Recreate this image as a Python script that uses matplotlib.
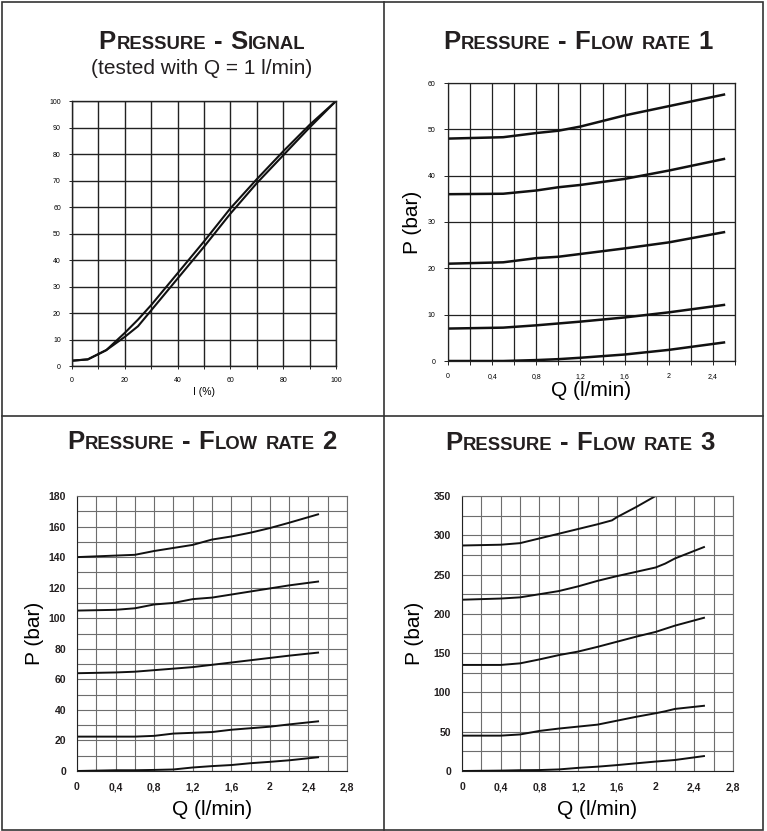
import matplotlib
matplotlib.use("Agg")
import matplotlib.pyplot as plt
from matplotlib.offsetbox import TextArea, HPacker, AnnotationBbox
from matplotlib.patches import Rectangle
from matplotlib.lines import Line2D

plt.rcParams['font.family'] = ['Liberation Sans', 'DejaVu Sans']

# ---- data ----
# pressure - signal (two branches of the hysteresis loop)
sig_x = [0, 6, 10, 13, 20, 25, 30, 40, 50, 60, 70, 80, 90, 100]
sig_up = [2, 2.5, 4.5, 6, 12.5, 17.5, 23, 35, 47, 59.5, 70.5, 81, 91, 100]
sig_down = [2, 2.5, 4.5, 6, 11, 15, 21, 33, 45, 57.5, 69, 79.5, 90, 100]

# pressure - flow rate 1
q1 = [0, 0.5, 0.8, 1.0, 1.2, 1.6, 2.0, 2.5]
f1_a = [48, 48.3, 49.2, 49.7, 50.6, 53, 55, 57.5]
f1_b = [36, 36.1, 36.8, 37.5, 38, 39.3, 41.1, 43.6]
f1_c = [21, 21.3, 22.2, 22.5, 23.1, 24.3, 25.6, 27.8]
f1_d = [7, 7.2, 7.7, 8.1, 8.5, 9.4, 10.5, 12.1]
f1_e = [0, 0, 0.2, 0.4, 0.7, 1.4, 2.4, 4.0]

# pressure - flow rate 2
q2 = [0, 0.4, 0.6, 0.8, 1.0, 1.2, 1.4, 1.6, 1.8, 2.0, 2.2, 2.5]
f2_a = [140, 141, 141.5, 144, 146, 148, 151.5, 153.5, 156, 159, 162.5, 168]
f2_b = [105, 105.5, 106.5, 109, 110, 112.5, 113.5, 115.5, 117.5, 119.5, 121.5, 124]
f2_c = [64, 64.5, 65, 66, 67, 68, 69.5, 71, 72.5, 74, 75.5, 77.5]
f2_d = [22.5, 22.5, 22.5, 23, 24.5, 25, 25.5, 27, 28, 29, 30.5, 32.5]
f2_e = [0, 0.5, 0.5, 0.7, 1, 2.3, 3.2, 3.9, 5.1, 6, 7, 9]

# pressure - flow rate 3
q3_top = [0, 0.4, 0.6, 0.8, 1.0, 1.2, 1.4, 1.55, 1.6, 1.8, 2.0]
f3_a = [287, 288, 290, 296, 302, 308, 314, 319, 323, 336, 350]
q3 = [0, 0.4, 0.6, 0.8, 1.0, 1.2, 1.4, 1.6, 1.8, 2.0, 2.1, 2.2, 2.5]
f3_b = [218, 219.5, 221, 225, 229, 235, 242, 248, 253.5, 259, 264, 270.5, 285]
f3_c = [135, 135, 137, 142, 147.5, 152, 158, 164.5, 171, 177, 181, 185, 195]
f3_d = [45, 45, 46.5, 51, 54, 56.5, 59, 64, 69, 73.5, 76, 79, 83]
f3_e = [0, 0.5, 1, 1.2, 2, 4, 5.5, 7.5, 9.8, 12, 13, 14, 19]

q_labels_short = ['0', '0,4', '0,8', '1,2', '1,6', '2', '2,4']
q_labels_long = q_labels_short + ['2,8']

W, H = 767, 831
fig = plt.figure(figsize=(W / 100, H / 100), dpi=100)


def add_ax(x0, y0, x1, y1):
    # pixel box (top-left origin) -> figure axes
    return fig.add_axes([x0 / W, 1 - y1 / H, (x1 - x0) / W, (y1 - y0) / H])


def fig_text(x, y, s, **kw):
    fig.text(x / W, 1 - y / H, s, ha='center', va='center', **kw)


def smallcaps_title(x, y, words, big=18.5, small=13.3):
    # words: list of lists of (text, is_big)
    boxes = []
    for word in words:
        parts = [TextArea(t, textprops=dict(size=big if b else small, weight='bold', color='#231f20'))
                 for t, b in word]
        boxes.append(HPacker(children=parts, align='baseline', pad=0, sep=0.5))
    pack = HPacker(children=boxes, align='baseline', pad=0, sep=5.5)
    ab = AnnotationBbox(pack, (x / W, 1 - y / H), xycoords='figure fraction',
                        frameon=False, box_alignment=(0.5, 0.5))
    fig.add_artist(ab)


def style_grid(ax, color, lw):
    ax.grid(True, which='both', color=color, lw=lw)
    ax.set_axisbelow(True)
    for s in ax.spines.values():
        s.set_color(color)
        s.set_linewidth(lw)


# ---- panel 1: pressure - signal ----
ax1 = add_ax(72, 101, 336, 366)
ax1.plot(sig_x, sig_up, color='#111', lw=1.5)
ax1.plot(sig_x, sig_down, color='#111', lw=1.5)
ax1.set_xlim(0, 100)
ax1.set_ylim(0, 100)
ax1.set_xticks(range(0, 101, 20))
ax1.set_xticks(range(0, 101, 10), minor=True)
ax1.set_yticks(range(0, 101, 10))
style_grid(ax1, '#222', 1.0)
ax1.tick_params(which='both', labelsize=5, length=2, width=0.6, pad=6)
ax1.set_xlabel('I (%)', fontsize=7.5, labelpad=2)

smallcaps_title(202, 42, [[('P', 1), ('RESSURE', 0)], [('-', 1)], [('S', 1), ('IGNAL', 0)]])
fig_text(202, 69, '(tested with Q = 1 l/min)', fontsize=15, color='#231f20')

# ---- panel 2: pressure - flow rate 1 ----
ax2 = add_ax(448, 83, 735, 361)
for ys in (f1_a, f1_b, f1_c, f1_d, f1_e):
    ax2.plot(q1, ys, color='#111', lw=1.8)
ax2.set_xlim(0, 2.6)
ax2.set_ylim(0, 60)
ax2.set_xticks([0, 0.4, 0.8, 1.2, 1.6, 2.0, 2.4])
ax2.set_xticklabels(q_labels_short)
ax2.set_xticks([i * 0.2 for i in range(14)], minor=True)
ax2.set_yticks(range(0, 61, 10))
style_grid(ax2, '#222', 0.9)
ax2.tick_params(which='both', labelsize=5, length=3, width=0.6, pad=6)
ax2.set_xlabel('Q (l/min)', fontsize=15, labelpad=0)
ax2.set_ylabel('P (bar)', fontsize=15, labelpad=4)

smallcaps_title(578, 42, [[('P', 1), ('RESSURE', 0)], [('-', 1)], [('F', 1), ('LOW', 0)],
                          [('RATE', 0)], [('1', 1)]])


# ---- panels 3 and 4 ----
def flow_panel(box, qs_list, ys_list, ymax, ystep, ygrid, title_x, title_y, num, ypad):
    ax = add_ax(*box)
    for qs, ys in zip(qs_list, ys_list):
        ax.plot(qs, ys, color='#111', lw=1.4)
    ax.set_xlim(0, 2.8)
    ax.set_ylim(0, ymax)
    ax.set_xticks([0, 0.4, 0.8, 1.2, 1.6, 2.0, 2.4, 2.8])
    ax.set_xticklabels(q_labels_long)
    ax.set_xticks([i * 0.2 for i in range(15)], minor=True)
    ax.set_yticks(range(0, ymax + 1, ystep))
    ax.set_yticks(range(0, ymax + 1, ygrid), minor=True)
    style_grid(ax, '#6d6d6d', 0.8)
    ax.spines['left'].set_color('#222')
    ax.spines['bottom'].set_color('#222')
    ax.tick_params(which='both', length=0, pad=8)
    ax.tick_params(labelsize=7.5)
    for lab in ax.get_xticklabels() + ax.get_yticklabels():
        lab.set_fontweight('bold')
        lab.set_color('#231f20')
    ax.set_xlabel('Q (l/min)', fontsize=15, labelpad=6)
    ax.set_ylabel('P (bar)', fontsize=15, labelpad=ypad)
    smallcaps_title(title_x, title_y, [[('P', 1), ('RESSURE', 0)], [('-', 1)], [('F', 1), ('LOW', 0)],
                                       [('RATE', 0)], [(num, 1)]])
    return ax


flow_panel((77, 496, 347, 771), [q2] * 5, [f2_a, f2_b, f2_c, f2_d, f2_e],
           180, 20, 10, 202, 442, '2', 3)
flow_panel((462, 496, 733, 771), [q3_top] + [q3] * 4, [f3_a, f3_b, f3_c, f3_d, f3_e],
           350, 50, 25, 580, 443, '3', 7)

# ---- panel frame ----
fig.add_artist(Rectangle((1.5 / W, 1.5 / H), (763 - 1.5) / W, (829 - 1.5) / H,
                         transform=fig.transFigure, fill=False, ec='#333', lw=1.2))
fig.add_artist(Line2D([384 / W, 384 / W], [1.5 / H, 1 - 1.5 / H], transform=fig.transFigure,
                      color='#333', lw=1.2))
fig.add_artist(Line2D([1.5 / W, 763 / W], [1 - 416 / H, 1 - 416 / H], transform=fig.transFigure,
                      color='#333', lw=1.2))

fig.savefig('out.png', dpi=100)
